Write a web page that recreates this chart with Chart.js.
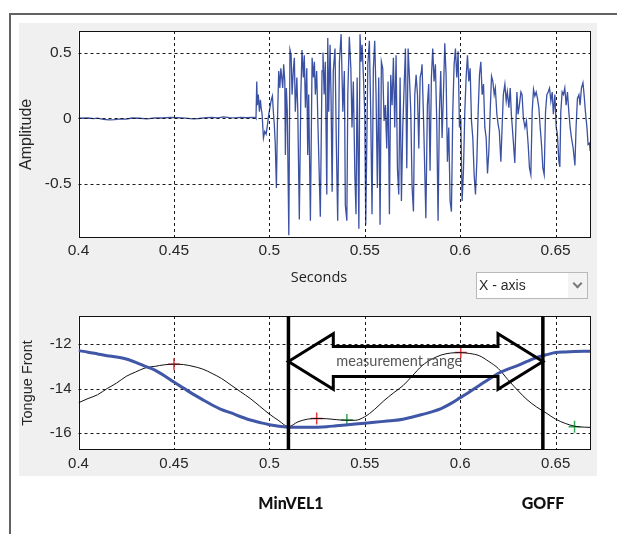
<!DOCTYPE html>
<html>
<head>
<meta charset="utf-8">
<script src="https://cdn.jsdelivr.net/npm/chart.js@4.4.0/dist/chart.umd.min.js"></script>
<style>
html,body{margin:0;padding:0;background:#fff;width:617px;height:534px;overflow:hidden;position:relative;}
#frame{position:absolute;left:9px;top:13px;width:700px;height:600px;border-left:2px solid #626262;border-top:2px solid #626262;}
#panel{position:absolute;left:19px;top:23px;width:578px;height:453px;background:#f0f0f0;}
canvas{position:absolute;left:0;}
#c1{top:0;}
#c2{top:300px;}
#seconds{position:absolute;left:269px;width:100px;top:268px;text-align:center;font:14.5px "Open Sans",sans-serif;color:#222;line-height:18px;}
#dd{position:absolute;left:476px;top:272px;width:110px;height:25px;border:1px solid #b9b9b9;background:#fff;}
#ddtxt{position:absolute;left:2px;top:4px;font:14px "Liberation Sans",Arial,sans-serif;color:#2a2a2a;line-height:17px;}
#ddbtn{position:absolute;right:0;top:0;width:19px;height:25px;background:#f3f3f3;}
#ddbtn span{position:absolute;left:6px;top:7px;width:5px;height:5px;border-right:2px solid #7a7a7a;border-bottom:2px solid #7a7a7a;transform:rotate(45deg);}
.evt{position:absolute;top:493px;width:100px;text-align:center;font:900 16px Lato,sans-serif;color:#111;line-height:20px;}
</style>
</head>
<body>
<div id="frame"></div>
<div id="panel"></div>
<canvas id="c1" width="617" height="300" style="width:617px;height:300px"></canvas>
<canvas id="c2" width="617" height="234" style="width:617px;height:234px"></canvas>
<div id="seconds">Seconds</div>
<div id="dd"><div id="ddtxt">X - axis</div><div id="ddbtn"><span></span></div></div>
<div class="evt" style="left:241px">MinVEL1</div>
<div class="evt" style="left:493px">GOFF</div>
<script>
// ---------- data ----------
const xTickValues = [0.4, 0.45, 0.5, 0.55, 0.6, 0.65];
const ampTickValues = [-0.5, 0, 0.5];
const tongueTickValues = [-16, -14, -12];

// audio waveform (seconds, amplitude)
const waveTime = [
 0.4000,0.4050,0.4080,0.4100,0.4130,0.4160,0.4190,0.4220,0.4250,0.4280,
 0.4320,0.4360,0.4400,0.4440,0.4480,0.4520,0.4560,0.4600,0.4630,0.4670,
 0.4700,0.4730,0.4760,0.4790,0.4820,0.4850,0.4880,0.4910,0.4928,
 0.4930,0.4934,0.4937,0.4942,0.4948,0.4953,0.4957,0.4962,0.4969,0.4976,
 0.4983,0.4990,0.4997,0.5004,0.5010,0.5016,0.5021,0.5026,0.5031,0.5037,
 0.5042,0.5049,0.5055,0.5060,0.5065,0.5070,0.5075,0.5081,0.5084,0.5089,
 0.5094,0.5102,0.5108,0.5114,0.5119,0.5126,0.5131,0.5136,0.5144,0.5149,
 0.5157,0.5165,0.5171,0.5178,0.5183,0.5189,0.5196,0.5201,0.5206,0.5215,
 0.5224,0.5231,0.5236,0.5241,0.5248,0.5255,0.5267,0.5276,0.5281,0.5287,
 0.5293,0.5301,0.5306,0.5311,0.5318,0.5323,0.5329,0.5335,0.5344,0.5351,
 0.5358,0.5367,0.5376,0.5385,0.5393,0.5398,0.5406,0.5411,0.5419,0.5427,
 0.5433,0.5440,0.5448,0.5454,0.5460,0.5469,0.5475,0.5481,0.5486,0.5493,
 0.5500,0.5505,0.5516,0.5524,0.5531,0.5538,0.5545,0.5552,0.5559,0.5566,
 0.5573,0.5580,0.5587,0.5594,0.5601,0.5608,0.5615,0.5622,0.5629,0.5636,
 0.5643,0.5650,0.5657,0.5664,0.5671,0.5678,0.5685,0.5692,0.5699,0.5706,
 0.5713,0.5720,0.5727,0.5734,0.5741,0.5748,0.5755,0.5762,0.5769,0.5776,
 0.5783,0.5790,0.5797,0.5800,0.5809,0.5820,0.5828,0.5835,0.5842,0.5849,
 0.5856,0.5863,0.5870,0.5877,0.5884,0.5891,0.5898,0.5905,0.5912,0.5919,
 0.5926,0.5933,0.5940,0.5947,0.5954,0.5961,0.5968,0.5975,0.5982,0.5989,
 0.5996,0.6003,0.6010,0.6017,0.6024,0.6031,0.6038,0.6045,0.6052,0.6059,
 0.6066,0.6073,0.6080,0.6087,0.6094,0.6101,0.6108,0.6115,0.6122,0.6129,
 0.6136,0.6143,0.6150,0.6157,0.6164,0.6171,0.6178,0.6184,0.6192,0.6199,
 0.6205,0.6213,0.6220,0.6226,0.6234,0.6241,0.6247,0.6255,0.6262,0.6268,
 0.6277,0.6286,0.6297,0.6303,0.6310,0.6318,0.6324,0.6331,0.6339,0.6347,
 0.6356,0.6363,0.6370,0.6377,0.6384,0.6391,0.6398,0.6405,0.6412,0.6419,
 0.6426,0.6433,0.6440,0.6447,0.6454,0.6461,0.6468,0.6475,0.6482,0.6488,
 0.6496,0.6503,0.6509,0.6517,0.6522,0.6527,0.6534,0.6541,0.6548,0.6555,
 0.6562,0.6569,0.6576,0.6583,0.6592,0.6601,0.6607,0.6614,0.6622,0.6628,
 0.6635,0.6643,0.6649,0.6656,0.6664,0.6670,0.6677,0.6681
];
const waveAmp = [
 0.000,0.002,-0.003,0.001,-0.008,-0.012,-0.010,-0.004,-0.006,0.002,
 0.000,-0.004,0.003,0.002,0.006,0.004,0.001,-0.005,-0.002,0.004,
 0.006,0.003,0.010,0.005,0.003,0.006,0.004,0.006,0.005,
 0.00,0.28,0.10,0.18,0.05,0.14,0.08,0.03,-0.15,-0.10,
 -0.12,-0.05,0.03,0.09,0.14,0.17,0.05,-0.05,-0.20,-0.53,
 -0.05,0.36,0.23,0.38,0.31,0.23,0.41,0.28,-0.28,0.23,
 0.05,-0.89,0.52,0.48,0.18,0.38,0.46,0.05,0.31,0.05,
 -0.77,0.18,0.52,0.31,0.48,0.08,0.38,-0.28,0.18,-0.78,
 0.46,0.31,0.43,0.18,0.36,-0.07,-0.75,0.36,0.50,0.18,
 0.43,-0.58,0.61,0.05,0.56,0.18,-0.56,0.36,0.53,-0.20,
 -0.78,0.43,0.64,0.05,0.36,-0.66,-0.78,0.18,0.62,0.38,
 -0.07,0.28,-0.43,-0.73,0.31,-0.84,0.64,0.43,0.56,0.31,
 0.03,-0.81,0.41,0.59,0.05,-0.73,0.38,0.59,0.18,-0.53,
 0.31,-0.81,0.43,0.38,-0.02,0.10,-0.23,0.28,-0.73,0.33,
 0.10,0.46,-0.07,0.48,-0.38,-0.58,0.31,-0.63,-0.07,0.23,
 0.53,-0.38,0.53,0.31,0.05,-0.53,-0.71,0.18,0.33,0.18,
 -0.23,0.31,0.36,0.41,-0.07,-0.76,0.10,0.26,-0.40,0.31,
 0.53,0.28,0.41,-0.02,-0.78,0.05,0.36,-0.15,0.18,0.57,
 0.33,-0.33,-0.07,-0.63,-0.71,0.05,0.41,0.53,0.31,0.51,
 -0.07,0.00,-0.63,-0.40,0.05,0.31,0.48,0.28,0.38,-0.02,
 -0.15,-0.43,-0.58,-0.33,0.05,0.33,0.43,0.18,0.26,-0.07,
 -0.15,-0.42,-0.25,0.05,0.32,0.28,0.18,0.23,0.03,-0.05,
 -0.10,-0.33,-0.05,0.18,0.26,0.13,0.20,0.08,0.23,0.03,
 -0.15,-0.34,0.20,0.03,0.10,0.20,0.18,0.00,-0.07,-0.02,
 -0.20,-0.38,-0.43,0.05,0.22,0.17,0.20,0.15,0.08,-0.07,
 -0.20,-0.38,-0.43,0.05,0.18,0.20,0.23,0.13,0.20,0.03,
 0.18,-0.07,-0.12,-0.33,-0.37,0.05,0.20,0.18,0.23,0.10,
 0.20,0.05,-0.07,-0.15,-0.23,-0.36,-0.07,0.15,0.18,0.10,
 0.23,0.27,0.18,0.05,-0.07,-0.20,-0.19,-0.25
];

// tongue trajectories (seconds)
const trajTime = [
 0.400,0.405,0.410,0.415,0.420,0.425,0.430,0.435,0.440,0.445,
 0.450,0.455,0.460,0.465,0.470,0.475,0.480,0.485,0.490,0.495,
 0.500,0.505,0.510,0.515,0.520,0.525,0.530,0.535,0.540,0.545,
 0.550,0.555,0.560,0.565,0.570,0.575,0.580,0.585,0.590,0.595,
 0.600,0.605,0.610,0.615,0.620,0.625,0.630,0.635,0.640,0.645,
 0.650,0.655,0.660,0.665,0.668
];
const tongueFront = [
 -12.29,-12.36,-12.44,-12.52,-12.58,-12.67,-12.82,-13.00,-13.17,-13.42,
 -13.71,-13.98,-14.25,-14.50,-14.74,-14.95,-15.10,-15.27,-15.42,-15.53,
 -15.63,-15.70,-15.74,-15.75,-15.75,-15.74,-15.72,-15.68,-15.64,-15.60,
 -15.56,-15.52,-15.48,-15.44,-15.38,-15.28,-15.17,-15.05,-14.90,-14.68,
 -14.41,-14.14,-13.86,-13.58,-13.31,-13.12,-12.97,-12.78,-12.60,-12.48,
 -12.38,-12.35,-12.33,-12.32,-12.32
];
const tongueThin = [
 -14.64,-14.45,-14.28,-14.00,-13.75,-13.45,-13.25,-13.07,-13.00,-12.93,
 -12.90,-12.92,-13.00,-13.12,-13.32,-13.55,-13.85,-14.15,-14.45,-14.80,
 -15.15,-15.45,-15.72,-15.50,-15.38,-15.35,-15.36,-15.40,-15.43,-15.43,
 -15.27,-14.95,-14.55,-14.20,-13.87,-13.42,-12.97,-12.68,-12.49,-12.40,
 -12.38,-12.42,-12.52,-12.78,-13.10,-13.60,-14.07,-14.50,-14.83,-15.10,
 -15.38,-15.57,-15.70,-15.74,-15.75
];
const peakMarkTime = [0.45, 0.5248, 0.6003];
const peakMarkValue = [-12.9, -15.35, -12.38];
const valleyMarkTime = [0.51, 0.5406, 0.6599];
const valleyMarkValue = [-15.75, -15.42, -15.72];

const eventTime = [0.51, 0.6433];   // MinVEL1, GOFF
const arrowLabel = 'measurement range';

// ---------- presentation settings ----------
const arrowSpec = { y: -12.78, shaftHalf: 0.68, headHalf: 1.25, headLen: 0.0235 };
const tickFont = s => ({ family: '"Liberation Sans", Arial, sans-serif', size: s });

function drawGrid(chart) {
  const { ctx, chartArea: a, scales } = chart;
  ctx.save();
  ctx.strokeStyle = '#1a1a1a';
  ctx.lineWidth = 1;
  ctx.setLineDash([3, 3]);
  scales.x.ticks.forEach(t => {
    const x = Math.round(scales.x.getPixelForValue(t.value)) + 0.5;
    if (x <= a.left + 1 || x >= a.right - 1) return;
    ctx.beginPath(); ctx.moveTo(x, a.top); ctx.lineTo(x, a.bottom); ctx.stroke();
  });
  scales.y.ticks.forEach(t => {
    const y = Math.round(scales.y.getPixelForValue(t.value)) + 0.5;
    if (y <= a.top + 1 || y >= a.bottom - 1) return;
    ctx.beginPath(); ctx.moveTo(a.left, y); ctx.lineTo(a.right, y); ctx.stroke();
  });
  ctx.setLineDash([]);
  ctx.strokeStyle = '#111';
  ctx.strokeRect(Math.round(a.left) + 0.5, Math.round(a.top) + 0.5,
                 Math.round(a.right - a.left) - 1, Math.round(a.bottom - a.top) - 1);
  ctx.restore();
}

const framePlugin = {
  id: 'framePlugin',
  beforeDraw(chart) {
    const { ctx, chartArea: a } = chart;
    ctx.save();
    ctx.fillStyle = '#ffffff';
    ctx.fillRect(a.left, a.top, a.right - a.left, a.bottom - a.top);
    ctx.restore();
  },
  beforeDatasetsDraw(chart, args, opts) { if (!opts.gridOnTop) drawGrid(chart); },
  afterDatasetsDraw(chart, args, opts) { if (opts.gridOnTop) drawGrid(chart); }
};

const eventPlugin = {
  id: 'eventPlugin',
  afterDraw(chart) {
    const { ctx, chartArea: a, scales: { x, y } } = chart;
    ctx.save();
    ctx.strokeStyle = '#000';
    ctx.lineWidth = 3.5;
    eventTime.forEach(t => {
      const px = x.getPixelForValue(t);
      ctx.beginPath(); ctx.moveTo(px, a.top); ctx.lineTo(px, a.bottom); ctx.stroke();
    });
    const xl = x.getPixelForValue(eventTime[0]);
    const xr = x.getPixelForValue(eventTime[1]);
    const bl = x.getPixelForValue(eventTime[0] + arrowSpec.headLen);
    const br = x.getPixelForValue(eventTime[1] - arrowSpec.headLen);
    const yc = y.getPixelForValue(arrowSpec.y);
    const hs = y.getPixelForValue(arrowSpec.y + arrowSpec.shaftHalf);
    const hsb = y.getPixelForValue(arrowSpec.y - arrowSpec.shaftHalf);
    const hh = y.getPixelForValue(arrowSpec.y + arrowSpec.headHalf);
    const hhb = y.getPixelForValue(arrowSpec.y - arrowSpec.headHalf);
    ctx.lineWidth = 3;
    ctx.lineJoin = 'miter';
    ctx.beginPath();
    ctx.moveTo(xl, yc);
    ctx.lineTo(bl, hh); ctx.lineTo(bl, hs); ctx.lineTo(br, hs); ctx.lineTo(br, hh);
    ctx.lineTo(xr, yc);
    ctx.lineTo(br, hhb); ctx.lineTo(br, hsb); ctx.lineTo(bl, hsb); ctx.lineTo(bl, hhb);
    ctx.closePath();
    ctx.stroke();
    ctx.fillStyle = '#555555';
    ctx.font = '14.5px Lato, sans-serif';
    ctx.textBaseline = 'middle';
    ctx.textAlign = 'left';
    ctx.fillText(arrowLabel, bl + 3, yc);
    ctx.restore();
  }
};

const pts = (xs, ys) => xs.map((v, i) => ({ x: v, y: ys[i] }));

function xScale(pad, fontSize, h) {
  return {
    type: 'linear', min: 0.4, max: 0.668,
    afterBuildTicks: s => { s.ticks = xTickValues.map(v => ({ value: v })); },
    afterFit: s => { s.height = h; },
    grid: { display: false, drawTicks: false },
    border: { display: false },
    ticks: { color: '#262626', font: tickFont(fontSize), padding: pad, maxRotation: 0,
             callback: v => String(v) }
  };
}
function yScale(min, max, tv, fontSize, title, titleSize, titlePad) {
  return {
    type: 'linear', min: min, max: max,
    afterBuildTicks: s => { s.ticks = tv.map(v => ({ value: v })); },
    afterFit: s => { s.width = 78.5; },
    grid: { display: false, drawTicks: false },
    border: { display: false },
    ticks: { color: '#262626', font: tickFont(fontSize), padding: 7, callback: v => String(v) },
    title: { display: true, text: title, color: '#262626',
             font: { family: '"Liberation Sans", Arial, sans-serif', size: titleSize },
             padding: { top: titlePad, bottom: 0 } }
  };
}

new Chart(document.getElementById('c1'), {
  type: 'line',
  data: {
    datasets: [{
      data: pts(waveTime, waveAmp),
      borderColor: '#3b51a3', borderWidth: 1.3, pointRadius: 0, tension: 0, fill: false
    }]
  },
  options: {
    responsive: false, animation: false, devicePixelRatio: 1,
    layout: { padding: { top: 31, right: 27, left: 0, bottom: 0 } },
    plugins: { legend: { display: false }, tooltip: { enabled: false },
               framePlugin: { gridOnTop: true } },
    scales: {
      x: xScale(3.8, 15.5, 62.3),
      y: yScale(-0.909, 0.664, ampTickValues, 15.5, 'Amplitude', 16, 17.4)
    }
  },
  plugins: [framePlugin]
});

new Chart(document.getElementById('c2'), {
  type: 'line',
  data: {
    datasets: [
      { data: pts(trajTime, tongueFront), borderColor: '#4056a6', borderWidth: 3,
        pointRadius: 0, cubicInterpolationMode: 'monotone', fill: false },
      { data: pts(trajTime, tongueThin), borderColor: '#111111', borderWidth: 1,
        pointRadius: 0, cubicInterpolationMode: 'monotone', fill: false },
      { data: pts(peakMarkTime, peakMarkValue), showLine: false, pointStyle: 'cross',
        pointRadius: 6, pointBorderWidth: 1.5, borderColor: '#e8383d', backgroundColor: '#e8383d' },
      { data: pts(valleyMarkTime, valleyMarkValue), showLine: false, pointStyle: 'cross',
        pointRadius: 6, pointBorderWidth: 1.5, borderColor: '#33a852', backgroundColor: '#33a852' }
    ]
  },
  options: {
    responsive: false, animation: false, devicePixelRatio: 1,
    layout: { padding: { top: 3.5, right: 27, left: 0, bottom: 0 } },
    plugins: { legend: { display: false }, tooltip: { enabled: false },
               framePlugin: { gridOnTop: false } },
    scales: {
      x: xScale(5, 15, 84),
      y: yScale(-16.77, -10.73, tongueTickValues, 15, 'Tongue Front', 14.5, 19.3)
    }
  },
  plugins: [framePlugin, eventPlugin]
});
</script>
</body>
</html>
